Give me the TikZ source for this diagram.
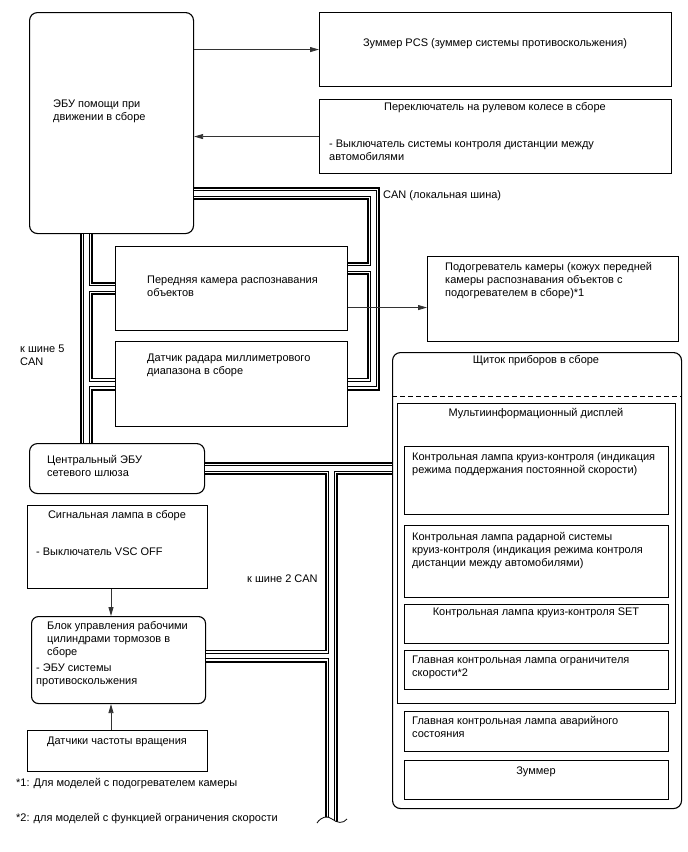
\documentclass[tikz,border=0pt]{standalone}
\usepackage{fontspec}
\setmainfont{Liberation Sans}
\usetikzlibrary{arrows.meta}

\begin{document}
\begin{tikzpicture}[x=1pt,y=-1pt,every node/.style={font=\fontsize{11}{13}\selectfont}]
    \tikzset{
      box/.style={draw,line width=1.1pt,inner sep=0pt,anchor=north west},
      rbox/.style={box,rounded corners=8pt},
      lbl/.style={inner sep=0pt,align=left,anchor=base west},
      clbl/.style={inner sep=0pt,align=center,anchor=base},
      link/.style={black!80,line width=0.8pt,-{Triangle[length=9pt,width=5pt]}}
    }
    \useasboundingbox (0,0) rectangle (688,852);
    % left column (text nodes sit on the baseline of their last line)
    \node[rbox,minimum width=164pt,minimum height=221pt] (ecu) at (29,12) {};
    \node[lbl] (ecutxt) at (53,120.5) {ЭБУ помощи при\\движении в сборе};
    \node[box,minimum width=232pt,minimum height=84pt] (cam) at (115,246) {};
    \node[lbl] (camtxt) at (147,296.5) {Передняя камера распознавания\\объектов};
    \node[box,minimum width=232pt,minimum height=85pt] (rad) at (115,341) {};
    \node[lbl] (radtxt) at (147,374.5) {Датчик радара миллиметрового\\диапазона в сборе};
    \node[lbl] (bus5) at (20,365.5) {к шине 5\\CAN};
    \node[rbox,minimum width=175pt,minimum height=50pt] (gw) at (29,443) {};
    \node[lbl] (gwtxt) at (47,476.5) {Центральный ЭБУ\\сетевого шлюза};
    \node[box,minimum width=180pt,minimum height=83pt] (lamp) at (27,505) {};
    \node[clbl] (lamptxt) at (117,518.5) {Сигнальная лампа в сборе};
    \node[lbl] (lampsw) at (36,555.5) {- Выключатель VSC OFF};
    \node[rbox,rounded corners=7pt,minimum width=174pt,minimum height=87pt] (brk) at (31,616) {};
    \node[lbl] (brktxt) at (47,655.5) {Блок управления рабочими\\цилиндрами тормозов в\\сборе};
    \node[lbl] (brkecu) at (36,684.5) {- ЭБУ системы\\противоскольжения};
    \node[box,minimum width=180pt,minimum height=41pt] (spd) at (27,730) {};
    \node[clbl] (spdtxt) at (117,744.5) {Датчики частоты вращения};
    \node[lbl] (fn1) at (16,786.5) {*1: Для моделей с подогревателем камеры};
    \node[lbl] (fn2) at (16,821.5) {*2: для моделей с функцией ограничения скорости};
    \node[lbl] (bus2) at (247,582.5) {к шине 2 CAN};
    % right column
    \node[box,minimum width=352pt,minimum height=74pt] (pcs) at (319,12) {};
    \node[clbl] (pcstxt) at (495,46.5) {Зуммер PCS (зуммер системы противоскольжения)};
    \node[box,minimum width=352pt,minimum height=74pt] (sw) at (319,99) {};
    \node[clbl] (swtxt) at (495,110.5) {Переключатель на рулевом колесе в сборе};
    \node[lbl] (switem) at (329,160.5) {- Выключатель системы контроля дистанции между\\автомобилями};
    \node[lbl] (canloc) at (383,198.5) {CAN (локальная шина)};
    \node[box,minimum width=251pt,minimum height=85pt] (htr) at (427,256) {};
    \node[lbl] (htrtxt) at (445,296.5) {Подогреватель камеры (кожух передней\\камеры распознавания объектов с\\подогревателем в сборе)*1};
    \node[rbox,minimum width=289pt,minimum height=456pt] (clu) at (392,352) {};
    \node[clbl] (clutxt) at (536,363.5) {Щиток приборов в сборе};
    \draw[dashed,dash pattern=on 5pt off 3pt,line width=0.9pt] (392,396) -- (681,396);
    \node[box,minimum width=278pt,minimum height=300pt] (mid) at (397,403) {};
    \node[clbl] (midtxt) at (536,416.5) {Мультиинформационный дисплей};
    \node[box,minimum width=264pt,minimum height=68pt] (lpa) at (404,446) {};
    \node[lbl] (lpatxt) at (412,473.5) {Контрольная лампа круиз-контроля (индикация\\режима поддержания постоянной скорости)};
    \node[box,minimum width=264pt,minimum height=72pt] (lpb) at (404,525) {};
    \node[lbl] (lpbtxt) at (412,566.5) {Контрольная лампа радарной системы\\круиз-контроля (индикация режима контроля\\дистанции между автомобилями)};
    \node[box,minimum width=264pt,minimum height=39pt] (lpc) at (404,604) {};
    \node[clbl] (lpctxt) at (536,615.5) {Контрольная лампа круиз-контроля SET};
    \node[box,minimum width=264pt,minimum height=39pt] (lpd) at (404,650) {};
    \node[lbl] (lpdtxt) at (412,676.5) {Главная контрольная лампа ограничителя\\скорости*2};
    \node[box,minimum width=264pt,minimum height=40pt] (lpe) at (404,711) {};
    \node[lbl] (lpetxt) at (412,737.5) {Главная контрольная лампа аварийного\\состояния};
    \node[box,minimum width=264pt,minimum height=39pt] (bzr) at (404,760) {};
    \node[clbl] (bzrtxt) at (536,774.5) {Зуммер};
    % bus points
    \coordinate (lt) at (86.5,0);
    \coordinate (rt) at (373.5,193.5);
    \coordinate (ce) at ([yshift=20pt]cam.east);
    \coordinate (bx) at (331.5,0);
    \coordinate (be) at ([yshift=4pt]brk.east);
    \coordinate (bend) at (331.5,822);
    \coordinate (hz) at ([yshift=-19pt]cam.east);
    \coordinate (ax) at (111,0);
    % CAN lines, drawn layer by layer
    \foreach \w/\c in {13pt/black,9.5pt/white,6.5pt/black,4.5pt/white} {
      \draw[line width=\w,\c] (ecu.south -| lt) -- (gw.north -| lt);
      \draw[line width=\w,\c] (lt |- cam.west) -- (cam.west);
      \draw[line width=\w,\c] (lt |- rad.west) -- (rad.west);
      \draw[line width=\w,\c] (ecu.east |- rt) -- (rt) -- (rt |- rad.east) -- (rad.east);
      \draw[line width=\w,\c] (rt |- ce) -- (ce);
      \draw[line width=\w,\c] (gw.east) -- (clu.west |- gw.east);
      \draw[line width=\w,\c] (bx |- gw.east) -- (bend);
      \draw[line width=\w,\c] (bx |- be) -- (be);
    }
    % break mark
    \fill[white] (317,823) .. controls (321,817) and (327,815) .. (332,819)
      .. controls (337,823) and (343,824) .. (347,819) -- (347,832) -- (317,832) -- cycle;
    \draw[line width=0.8pt] (317,823) .. controls (321,817) and (327,815) .. (332,819)
      .. controls (337,823) and (343,824) .. (347,819);
    % signals
    \draw[link] (ecu.east |- pcs.west) -- (pcs.west);
    \draw[link] (sw.west) -- (ecu.east |- sw.west);
    \draw[link] (hz) -- (hz -| htr.west);
    \draw[link] (lamp.south -| ax) -- (brk.north -| ax);
    \draw[link] (spd.north -| ax) -- (brk.south -| ax);
\end{tikzpicture}
\end{document}
